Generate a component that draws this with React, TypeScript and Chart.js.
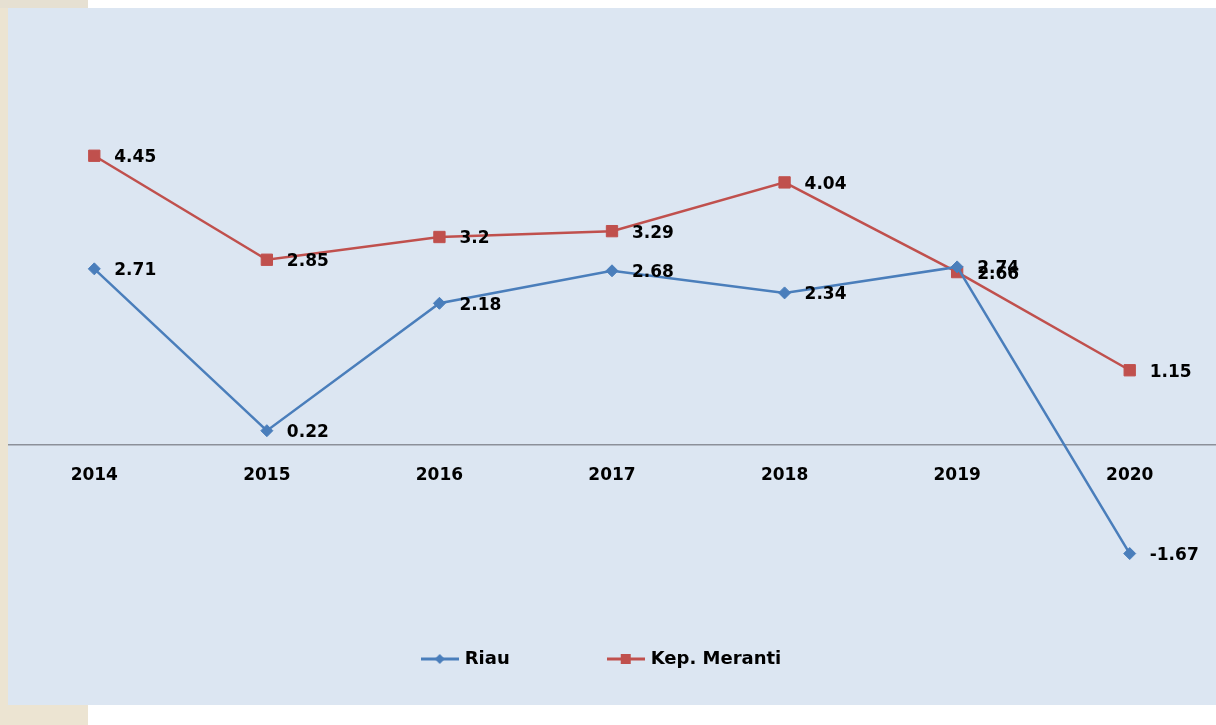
import React, { useEffect, useRef } from 'react';
import { Chart, registerables } from 'chart.js';

Chart.register(...registerables);

const years = ['2014', '2015', '2016', '2017', '2018', '2019', '2020'];
const riauValues = [2.71, 0.22, 2.18, 2.68, 2.34, 2.74, -1.67];
const merantiValues = [4.45, 2.85, 3.2, 3.29, 4.04, 2.66, 1.15];
const seriesNames = ['Riau', 'Kep. Meranti'];

const BLUE = '#4a7ebb';
const RED = '#c0504d';
const FONT = '"DejaVu Sans", sans-serif';

function makeIcon(color: string, kind: 'diamond' | 'square'): HTMLCanvasElement {
  const c = document.createElement('canvas');
  c.width = 38;
  c.height = 14;
  const ctx = c.getContext('2d')!;
  ctx.strokeStyle = color;
  ctx.lineWidth = 3;
  ctx.beginPath();
  ctx.moveTo(0, 7);
  ctx.lineTo(38, 7);
  ctx.stroke();
  ctx.fillStyle = color;
  ctx.beginPath();
  if (kind === 'diamond') {
    ctx.moveTo(19, 2);
    ctx.lineTo(24, 7);
    ctx.lineTo(19, 12);
    ctx.lineTo(14, 7);
    ctx.closePath();
  } else {
    ctx.rect(14, 2, 10, 10);
  }
  ctx.fill();
  return c;
}

const dataLabelPlugin = {
  id: 'dataLabels',
  afterDatasetsDraw(chart: any) {
    const ctx = chart.ctx;
    ctx.save();
    ctx.font = `bold 17px ${FONT}`;
    ctx.fillStyle = '#000';
    ctx.textAlign = 'left';
    ctx.textBaseline = 'middle';
    chart.data.datasets.forEach((ds: any, di: number) => {
      const meta = chart.getDatasetMeta(di);
      meta.data.forEach((pt: any, i: number) => {
        const v = ds.data[i];
        ctx.fillText(String(v), pt.x + 20, pt.y + 2);
      });
    });
    ctx.restore();
  },
};

export default function App() {
  const ref = useRef<HTMLCanvasElement | null>(null);

  useEffect(() => {
    document.body.style.margin = '0';
    const icons = [makeIcon(BLUE, 'diamond'), makeIcon(RED, 'square')];
    const chart = new Chart(ref.current!, {
      type: 'line',
      data: {
        labels: years,
        datasets: [
          {
            label: seriesNames[0],
            data: riauValues,
            borderColor: BLUE,
            backgroundColor: BLUE,
            borderWidth: 2.5,
            pointStyle: 'rectRot',
            pointRadius: 6,
            pointBorderWidth: 1,
            tension: 0,
          },
          {
            label: seriesNames[1],
            data: merantiValues,
            borderColor: RED,
            backgroundColor: RED,
            borderWidth: 2.5,
            pointStyle: 'rect',
            pointRadius: 8,
            pointBorderWidth: 1,
            tension: 0,
          },
        ],
      },
      options: {
        responsive: false,
        animation: false,
        layout: { autoPadding: false, padding: { top: 47, bottom: 27, left: -1, right: 0 } },
        scales: {
          x: {
            position: { y: 0 } as any,
            offset: true,
            grid: { display: false, drawTicks: false },
            border: { display: true, color: '#8c9099', width: 1.5 },
            ticks: {
              padding: 20,
              color: '#000',
              font: { family: FONT, size: 17, weight: 'bold' },
            },
          },
          y: {
            display: false,
            min: -3,
            max: 6,
          },
        },
        plugins: {
          tooltip: { enabled: false },
          legend: {
            position: 'bottom',
            labels: {
              usePointStyle: true,
              pointStyleWidth: 32,
              boxHeight: 14,
              padding: 10,
              color: '#000',
              font: { family: FONT, size: 18, weight: 'bold' },
              generateLabels: () => [
                {
                  text: seriesNames[0] + '\u2003\u2003\u2003\u2003\u2003',
                  pointStyle: icons[0] as any,
                  fillStyle: BLUE,
                  strokeStyle: BLUE,
                  lineWidth: 0,
                  hidden: false,
                  datasetIndex: 0,
                },
                {
                  text: seriesNames[1] + '\u2003',
                  pointStyle: icons[1] as any,
                  fillStyle: RED,
                  strokeStyle: RED,
                  lineWidth: 0,
                  hidden: false,
                  datasetIndex: 1,
                },
              ],
            },
          },
        },
      },
      plugins: [dataLabelPlugin],
    });
    return () => chart.destroy();
  }, []);

  return (
    <div style={{ position: 'fixed', left: 0, top: 0, width: 1216, height: 725, background: '#ffffff', overflow: 'hidden' }}>
      <div style={{ position: 'absolute', left: 0, top: 0, width: 8, height: 725, background: '#ece4d2' }} />
      <div style={{ position: 'absolute', left: 0, top: 0, width: 88, height: 8, background: '#e6e0d2' }} />
      <div style={{ position: 'absolute', left: 0, top: 705, width: 88, height: 20, background: '#ece4d2' }} />
      <div style={{ position: 'absolute', left: 8, top: 8, width: 1208, height: 697, background: '#dce6f2' }}>
        <canvas ref={ref} width={1208} height={697} style={{ width: 1208, height: 697, display: 'block' }} />
      </div>
    </div>
  );
}
